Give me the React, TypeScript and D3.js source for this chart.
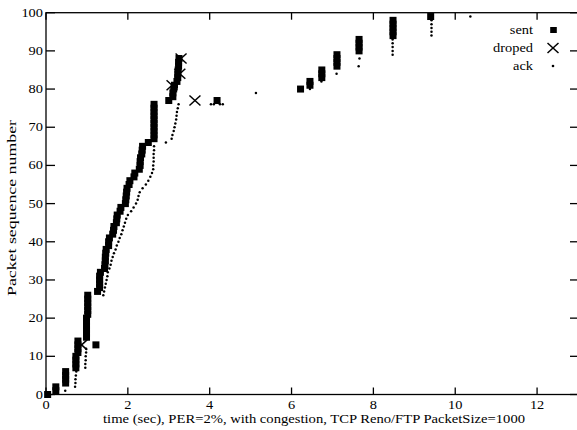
import React from "react";
import * as d3 from "d3";

// ---- data (time in sec, packet sequence number) ----
const sentPoints: [number, number][] = [
  [0.04, 0],
  [0.24, 1], [0.24, 2],
  [0.48, 3], [0.48, 4], [0.48, 5], [0.48, 6],
  [0.73, 7], [0.73, 8], [0.73, 9], [0.73, 10],
  [0.78, 11], [0.78, 12], [0.78, 13], [0.78, 14],
  [0.99, 15], [0.99, 16], [0.99, 17], [0.99, 18], [0.99, 19], [0.99, 20],
  [1.02, 21], [1.02, 22], [1.02, 23], [1.02, 24], [1.02, 25], [1.02, 26],
  [1.22, 13],
  [1.26, 27],
  [1.31, 28], [1.31, 29], [1.31, 30], [1.31, 31], [1.33, 32],
  [1.43, 33], [1.44, 34], [1.45, 35], [1.45, 36], [1.46, 37], [1.47, 38],
  [1.53, 39], [1.53, 40], [1.55, 41],
  [1.63, 42], [1.65, 43], [1.66, 44],
  [1.72, 45], [1.73, 46], [1.74, 47],
  [1.81, 48], [1.83, 49],
  [1.94, 50], [1.95, 51], [1.96, 52], [1.97, 53], [1.98, 54],
  [2.03, 55], [2.05, 56],
  [2.15, 57], [2.17, 58],
  [2.28, 59], [2.3, 60], [2.3, 61], [2.31, 62],
  [2.34, 63], [2.35, 64], [2.36, 65],
  [2.5, 66],
  [2.64, 67], [2.64, 68], [2.64, 69], [2.64, 70], [2.64, 71],
  [2.64, 72], [2.64, 73], [2.64, 74], [2.64, 75], [2.64, 76],
  [3.0, 77],
  [3.1, 78], [3.1, 79], [3.12, 80], [3.14, 81],
  [3.2, 82], [3.22, 83], [3.22, 84], [3.23, 85], [3.24, 86], [3.24, 87], [3.25, 88],
  [4.18, 77],
  [6.22, 80],
  [6.45, 81], [6.45, 82],
  [6.74, 83], [6.74, 84], [6.74, 85],
  [7.11, 86], [7.11, 87], [7.11, 88], [7.11, 89],
  [7.65, 90], [7.65, 91], [7.65, 92], [7.65, 93],
  [8.48, 94], [8.48, 95], [8.48, 96], [8.48, 97], [8.48, 98],
  [9.4, 99],
];

const droppedPoints: [number, number][] = [
  [0.87, 13],
  [3.08, 81],
  [3.27, 84],
  [3.3, 88],
  [3.64, 77],
];

const ackPoints: [number, number][] = [
  [0.47, 1],
  [0.71, 2], [0.72, 3], [0.72, 4], [0.73, 5], [0.74, 6],
  [0.96, 7], [0.96, 8], [0.97, 9], [0.97, 10], [0.98, 11], [0.98, 12],
  [1.4, 26], [1.42, 27], [1.44, 28], [1.46, 29], [1.48, 30], [1.5, 31], [1.51, 32],
  [1.55, 33], [1.58, 34], [1.6, 35], [1.63, 36], [1.66, 37], [1.7, 38], [1.73, 39],
  [1.77, 40], [1.8, 41], [1.84, 42], [1.87, 43], [1.9, 44], [1.93, 45], [1.96, 46],
  [2.0, 47], [2.08, 48], [2.14, 49], [2.2, 50], [2.24, 51], [2.26, 52], [2.29, 53],
  [2.36, 54], [2.44, 55], [2.5, 56], [2.55, 57], [2.59, 58],
  [2.62, 59], [2.62, 60], [2.63, 61], [2.63, 62], [2.63, 63], [2.64, 64], [2.64, 65],
  [2.93, 66],
  [3.07, 67], [3.09, 68], [3.12, 69], [3.14, 70], [3.16, 71], [3.18, 72], [3.19, 73],
  [3.2, 74], [3.22, 75], [3.24, 76],
  [4.03, 76], [4.1, 76], [4.25, 76], [4.32, 76],
  [5.13, 79],
  [6.45, 80],
  [6.73, 82],
  [7.1, 84],
  [7.64, 86], [7.66, 88],
  [8.47, 89], [8.47, 90], [8.47, 91], [8.47, 92], [8.47, 93],
  [9.42, 94], [9.42, 95], [9.42, 96], [9.42, 97], [9.42, 98],
  [10.37, 99],
];

const xTicks = [0, 2, 4, 6, 8, 10, 12];
const yTicks = [0, 10, 20, 30, 40, 50, 60, 70, 80, 90, 100];
const legendLabels = ["sent", "droped", "ack"];
const xTitle = "time (sec), PER=2%, with congestion, TCP Reno/FTP PacketSize=1000";
const yTitle = "Packet sequence number";

const W = 577;
const H = 430;
const FONT = "Liberation Serif, Times New Roman, serif";
const SX = 1.2;

export default function App() {
  const x = d3.scaleLinear().domain([0, 13]).range([46, 578]);
  const y = d3.scaleLinear().domain([0, 100]).range([394.5, 12.7]);
  const [x0, x1] = x.range();
  const [y0, y1] = y.range();
  const sq = 7;
  const xs = 5.5;
  const ys = 5;

  const cross = (cx: number, cy: number, key: string) => (
    <g key={key} stroke="#000" strokeWidth={1.5}>
      <line x1={cx - xs} y1={cy - ys} x2={cx + xs} y2={cy + ys} />
      <line x1={cx - xs} y1={cy + ys} x2={cx + xs} y2={cy - ys} />
    </g>
  );

  const label = (
    tx: number,
    ty: number,
    s: string,
    anchor: "start" | "middle" | "end",
    key: string,
    len?: number
  ) => (
    <text
      key={key}
      transform={`translate(${tx},${ty}) scale(${SX},1)`}
      textAnchor={anchor}
      fontFamily={FONT}
      fontSize={12}
      fill="#000"
      {...(len ? { textLength: len, lengthAdjust: "spacingAndGlyphs" } : {})}
    >
      {s}
    </text>
  );

  return (
    <svg
      width={W}
      height={H}
      style={{ position: "absolute", left: 0, top: 0, display: "block" }}
    >
      <rect x={0} y={0} width={W} height={H} fill="#fff" />
      {/* ticks */}
      <g stroke="#000" strokeWidth={1.3}>
        {xTicks.map((t) => (
          <g key={"xt" + t}>
            <line x1={x(t)} x2={x(t)} y1={y0} y2={y0 - 7} />
            <line x1={x(t)} x2={x(t)} y1={y1} y2={y1 + 7} />
          </g>
        ))}
        {yTicks.map((t) => (
          <g key={"yt" + t}>
            <line x1={x0} x2={x0 + 9} y1={y(t)} y2={y(t)} />
            <line x1={x1} x2={x1 - 8} y1={y(t)} y2={y(t)} />
          </g>
        ))}
      </g>
      {/* frame */}
      <rect
        x={x0}
        y={y1}
        width={x1 - x0}
        height={y0 - y1}
        fill="none"
        stroke="#000"
        strokeWidth={1.3}
      />
      {/* tick labels */}
      {xTicks.map((t) => label(x(t), y0 + 14, String(t), "middle", "xl" + t))}
      {yTicks.map((t) => label(x0 - 3, y(t) + 4, String(t), "end", "yl" + t))}
      {/* axis titles */}
      {label(314, 423, xTitle, "middle", "xtitle", 422 / SX)}
      <text
        transform={`translate(16,208) rotate(-90)`}
        textAnchor="middle"
        fontFamily={FONT}
        fontSize={13}
        fill="#000"
        textLength={176}
        lengthAdjust="spacingAndGlyphs"
      >
        {yTitle}
      </text>
      {/* data */}
      <g fill="#000">
        {sentPoints.map(([t, n], i) => (
          <rect key={"s" + i} x={x(t) - sq / 2} y={y(n) - sq / 2} width={sq} height={sq} />
        ))}
      </g>
      <g fill="#000">
        {ackPoints.map(([t, n], i) => (
          <circle key={"a" + i} cx={x(t)} cy={y(n)} r={1.25} />
        ))}
      </g>
      {droppedPoints.map(([t, n], i) => cross(x(t), y(n), "d" + i))}
      {/* legend */}
      {legendLabels.map((s, i) => label(533, 34 + i * 18, s, "end", "lg" + i))}
      <rect x={553.5 - 3.3} y={30 - 3} width={6.6} height={6} fill="#000" />
      {cross(553, 48, "lgx")}
      <circle cx={553} cy={66} r={1.3} fill="#000" />
    </svg>
  );
}
